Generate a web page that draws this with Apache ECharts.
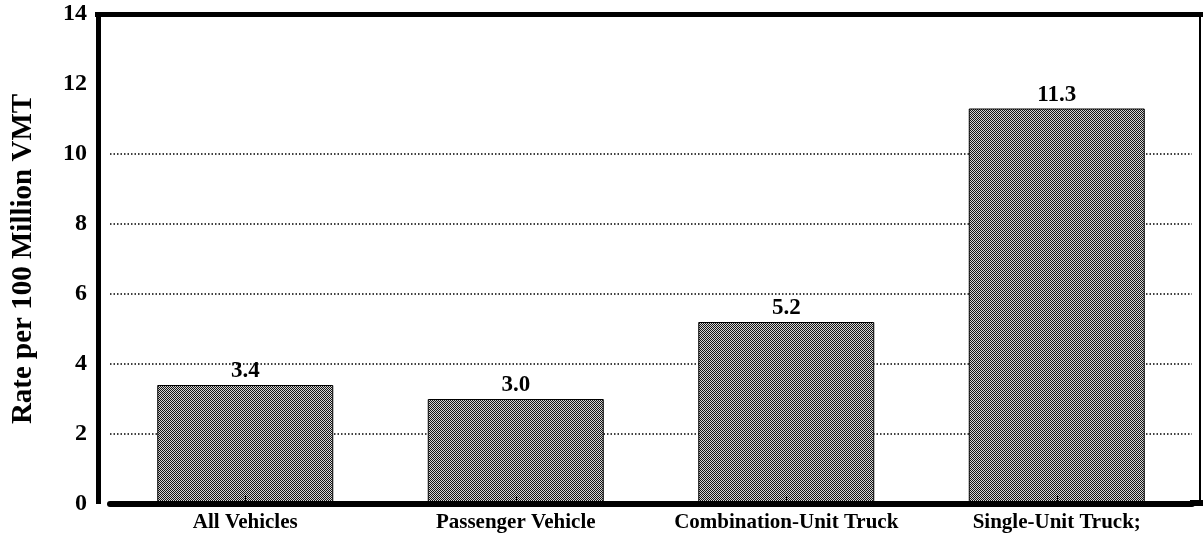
<!DOCTYPE html>
<html>
<head>
<meta charset="utf-8">
<script src="https://cdn.jsdelivr.net/npm/echarts@6/dist/echarts.min.js"></script>
<style>
  html, body { margin: 0; padding: 0; background: #fff; }
  #chart { width: 1203px; height: 540px; }
</style>
</head>
<body>
<div id="chart"></div>
<script>
const categories = ['All Vehicles', 'Passenger Vehicle', 'Combination-Unit Truck', 'Single-Unit Truck;'];
const rates = [3.4, 3.0, 5.2, 11.3];
const yMin = 0;
const yMax = 14;
const yStep = 2;

const serif = "'Liberation Serif', 'Times New Roman', serif";

// dithered grey fill like the scanned original
function ditherPattern() {
  const c = document.createElement('canvas');
  c.width = 2;
  c.height = 2;
  const ctx = c.getContext('2d');
  ctx.fillStyle = '#d6d6d6';
  ctx.fillRect(0, 0, 2, 2);
  ctx.fillStyle = '#151515';
  ctx.fillRect(0, 0, 1, 1);
  ctx.fillRect(1, 1, 1, 1);
  return c;
}

const chart = echarts.init(document.getElementById('chart'));

chart.setOption({
  animation: false,
  grid: { left: 110, right: 11, top: 14, bottom: 36 },
  xAxis: {
    type: 'category',
    data: categories,
    z: 3,
    axisLine: { lineStyle: { color: '#000', width: 6 } },
    axisTick: { show: true, inside: true, alignWithLabel: true, length: 8, lineStyle: { color: '#000', width: 1 } },
    axisLabel: { interval: 0, color: '#000', fontFamily: serif, fontWeight: 'bold', fontSize: 21, margin: 8 }
  },
  yAxis: {
    type: 'value',
    min: yMin,
    max: yMax,
    interval: yStep,
    name: 'Rate per 100 Million VMT',
    nameLocation: 'middle',
    nameGap: 72,
    nameTextStyle: { color: '#000', fontFamily: serif, fontWeight: 'bold', fontSize: 29 },
    axisLine: { show: false },
    axisTick: { show: false },
    axisLabel: { color: '#000', fontFamily: serif, fontWeight: 'bold', fontSize: 24, margin: 23 },
    splitLine: {
      show: true,
      lineStyle: {
        color: ['rgba(0,0,0,0)', '#000', '#000', '#000', '#000', '#000', 'rgba(0,0,0,0)', 'rgba(0,0,0,0)'],
        type: [1.5, 2],
        width: 1.5
      }
    }
  },
  series: [{
    type: 'bar',
    data: rates,
    barWidth: 176,
    z: 2,
    itemStyle: {
      color: { image: ditherPattern(), repeat: 'repeat' },
      borderColor: '#000',
      borderWidth: 1
    },
    label: {
      show: true,
      position: 'top',
      distance: 2,
      color: '#000',
      fontFamily: serif,
      fontWeight: 'bold',
      fontSize: 23,
      formatter: p => p.value.toFixed(1)
    }
  }],
  // frame pieces of the scanned plot box
  graphic: [
    { type: 'rect', shape: { x: 95, y: 12, width: 1108, height: 5 }, style: { fill: '#000' } },
    { type: 'rect', shape: { x: 96, y: 12, width: 5, height: 492 }, style: { fill: '#000' } },
    { type: 'rect', shape: { x: 1199, y: 12, width: 2, height: 494 }, style: { fill: '#000' } },
    { type: 'rect', shape: { x: 1190, y: 500, width: 13, height: 6 }, style: { fill: '#000' } }
  ]
});
</script>
</body>
</html>
